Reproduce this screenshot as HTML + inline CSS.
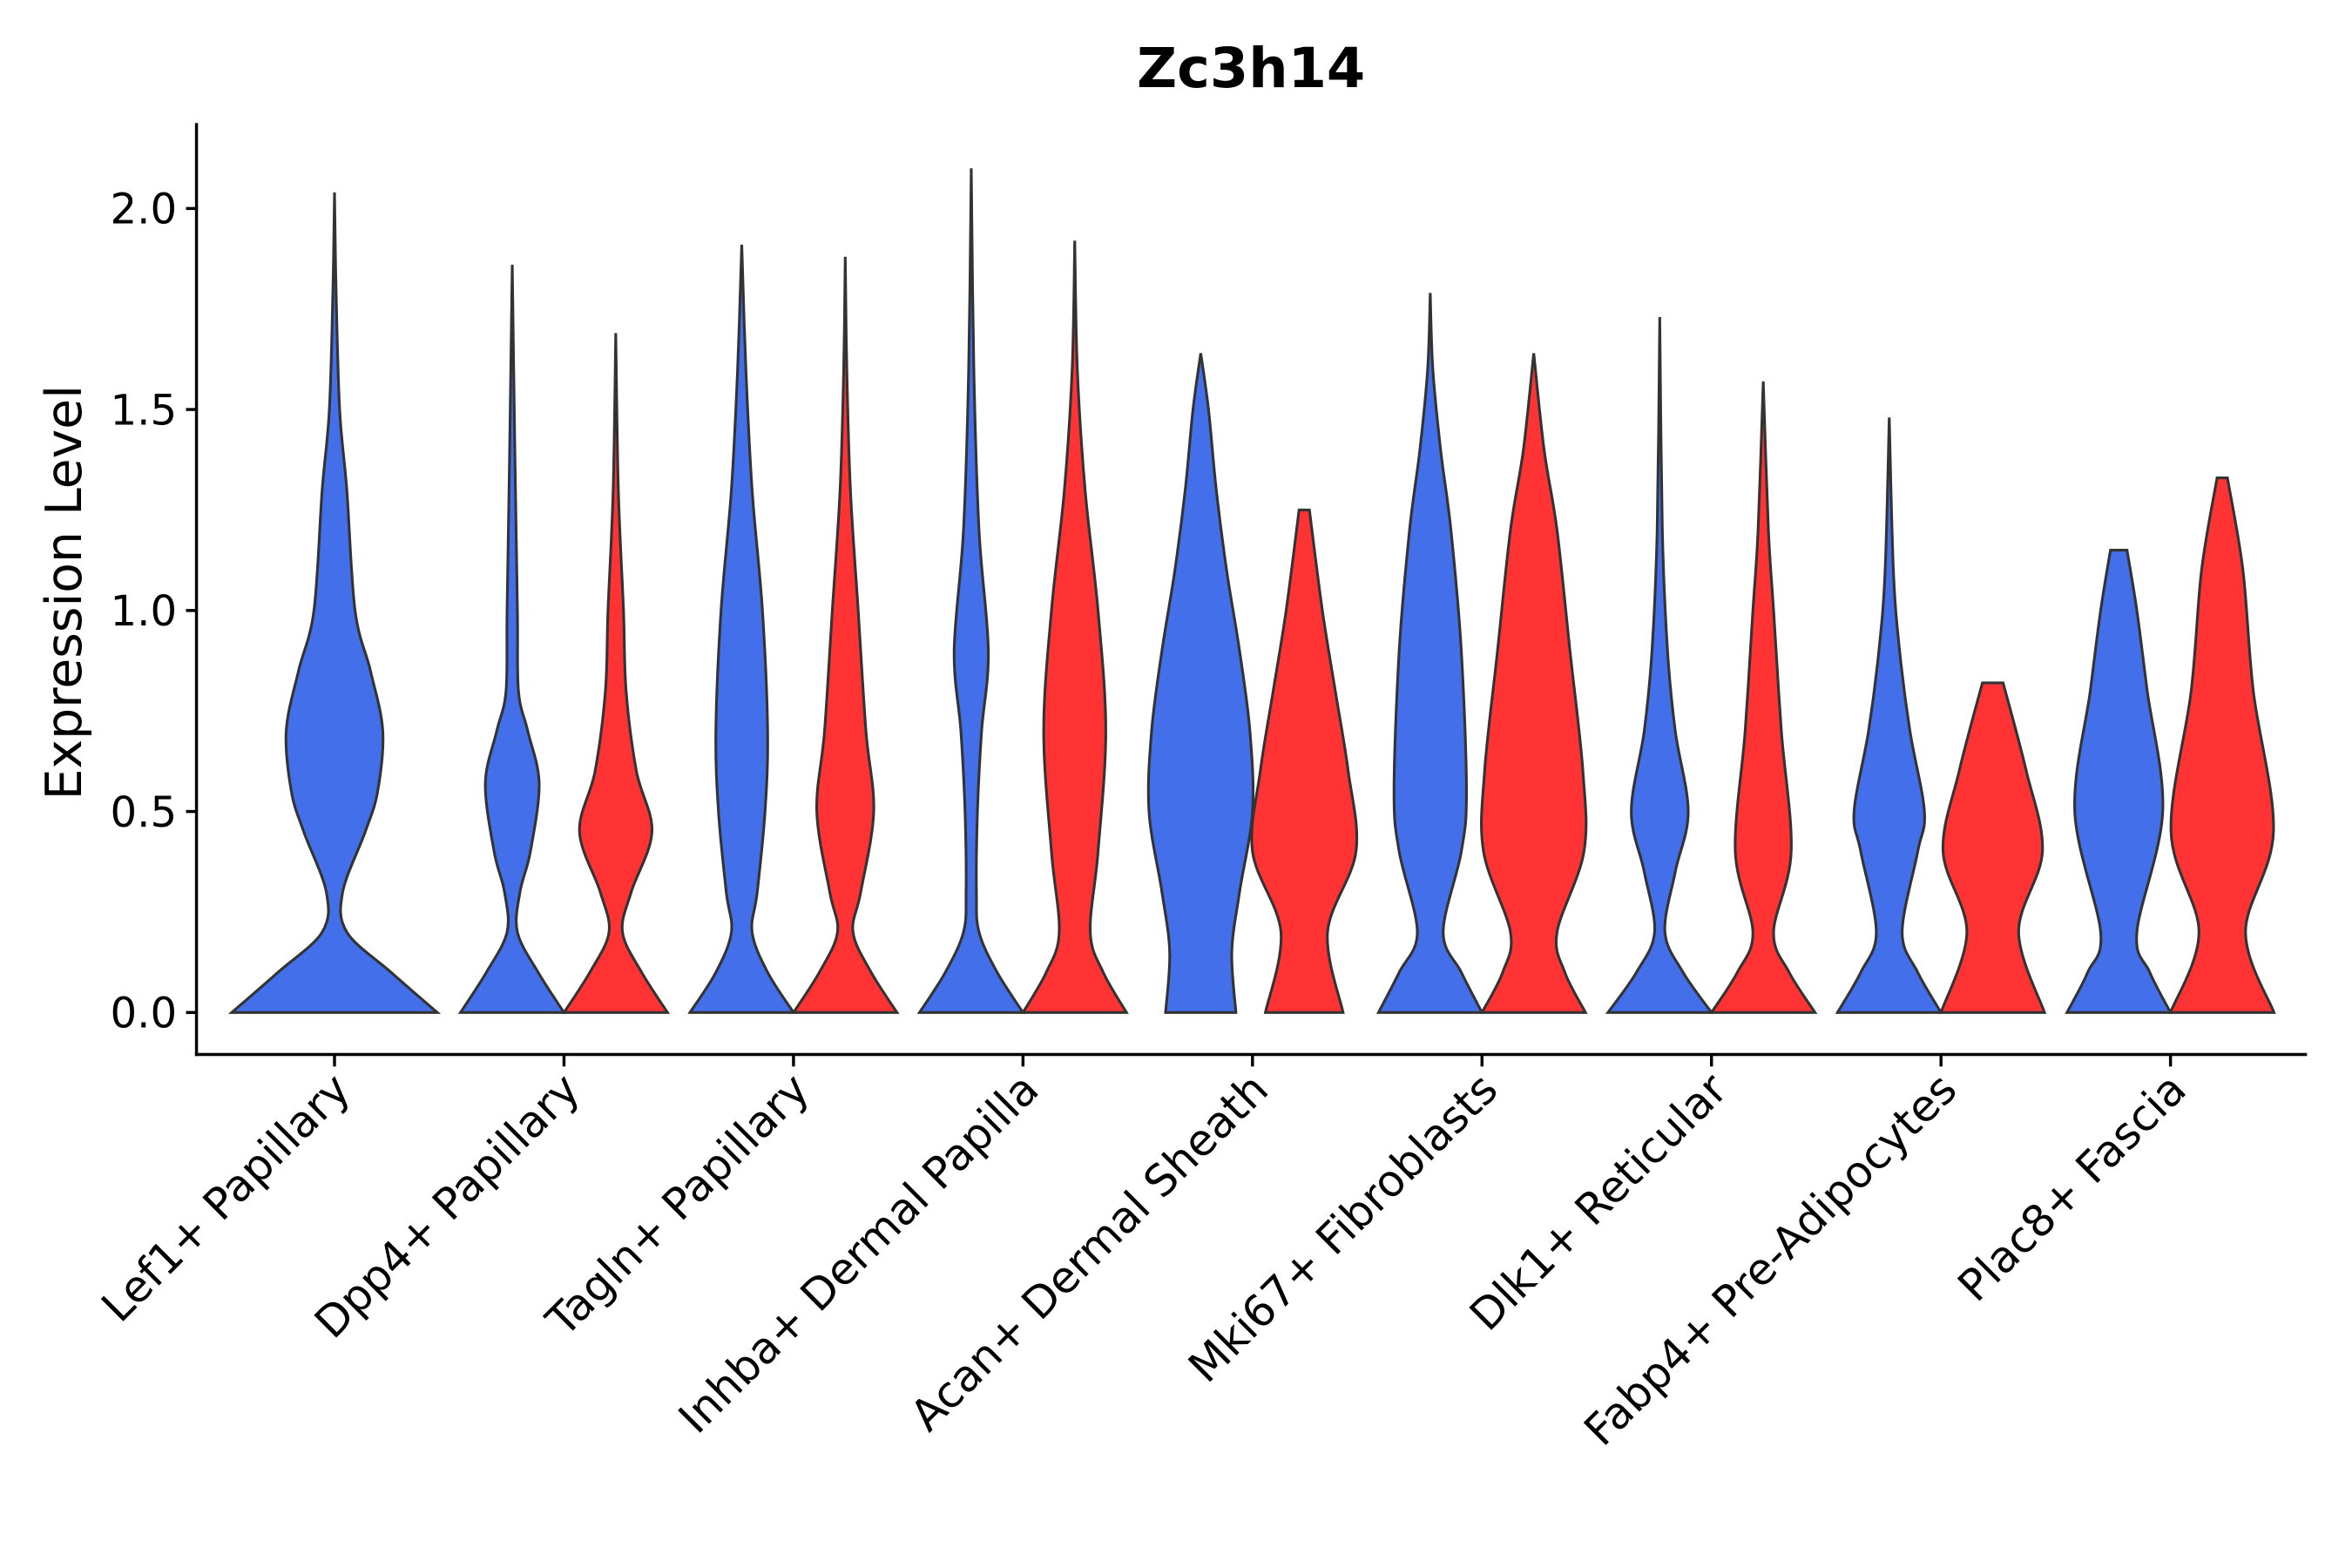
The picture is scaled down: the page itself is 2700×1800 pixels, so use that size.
<!DOCTYPE html>
<html><head><meta charset="utf-8"><style>
html,body{margin:0;padding:0;background:#fff}
svg{display:block}
text{font-family:"DejaVu Sans","Liberation Sans",sans-serif;fill:#000}
</style></head><body>
<svg id="chart" width="2700" height="1800" viewBox="0 0 1568 1045.33" preserveAspectRatio="none" xmlns="http://www.w3.org/2000/svg">
<text x="834" y="58" text-anchor="middle" font-size="37" font-weight="bold">Zc3h14</text>
<text transform="translate(54,395) rotate(-90)" text-anchor="middle" font-size="33">Expression Level</text>
<g id="violins"></g>
<g id="axes"></g>
</svg>
<script>
const categories = ["Lef1+ Papillary","Dpp4+ Papillary","Tagln+ Papillary","Inhba+ Dermal Papilla","Acan+ Dermal Sheath","Mki67+ Fibroblasts","Dlk1+ Reticular","Fabp4+ Pre-Adipocytes","Plac8+ Fascia"];
const yTicks = [0.0,0.5,1.0,1.5,2.0];
const yTickLabels = ["0.0","0.5","1.0","1.5","2.0"];
// density profiles: [level, relative half-width]
const blueProfiles = [
 [[0,1],[0.1,0.55],[0.2,0.12],[0.3,0.08],[0.45,0.3],[0.55,0.42],[0.7,0.47],[0.85,0.35],[1.0,0.2],[1.3,0.12],[1.5,0.05],[1.8,0.015],[2.04,0]],
 [[0,1],[0.1,0.5],[0.2,0.1],[0.3,0.15],[0.4,0.35],[0.57,0.52],[0.7,0.3],[0.8,0.12],[1.0,0.1],[1.4,0.05],[1.86,0]],
 [[0,1],[0.1,0.5],[0.2,0.2],[0.3,0.3],[0.5,0.45],[0.7,0.5],[1.0,0.4],[1.3,0.2],[1.6,0.08],[1.91,0]],
 [[0,1],[0.1,0.5],[0.2,0.15],[0.3,0.1],[0.5,0.12],[0.7,0.2],[0.9,0.33],[1.2,0.15],[1.6,0.05],[2.1,0]],
 [[0,0.68],[0.15,0.6],[0.3,0.75],[0.5,1.0],[0.7,0.95],[0.9,0.75],[1.1,0.5],[1.3,0.3],[1.5,0.15],[1.64,0]],
 [[0,1],[0.1,0.6],[0.2,0.25],[0.4,0.6],[0.55,0.7],[0.9,0.6],[1.2,0.4],[1.4,0.2],[1.6,0.05],[1.79,0]],
 [[0,1],[0.1,0.45],[0.2,0.1],[0.35,0.3],[0.5,0.55],[0.7,0.3],[0.9,0.15],[1.2,0.05],[1.73,0]],
 [[0,1],[0.1,0.55],[0.2,0.25],[0.4,0.55],[0.5,0.68],[0.7,0.4],[0.9,0.2],[1.1,0.08],[1.48,0]],
 [[0,1],[0.1,0.6],[0.2,0.35],[0.5,0.85],[0.8,0.55],[1.0,0.35],[1.15,0.16]]
];
const redProfiles = [
 null,
 [[0,1],[0.1,0.5],[0.2,0.13],[0.3,0.3],[0.45,0.7],[0.6,0.4],[0.8,0.2],[1.0,0.15],[1.3,0.05],[1.69,0]],
 [[0,1],[0.1,0.5],[0.2,0.15],[0.3,0.3],[0.5,0.55],[0.7,0.4],[1.0,0.25],[1.3,0.1],[1.6,0.03],[1.88,0]],
 [[0,1],[0.1,0.55],[0.2,0.3],[0.4,0.45],[0.7,0.6],[1.0,0.45],[1.3,0.2],[1.6,0.05],[1.92,0]],
 [[0,0.75],[0.2,0.45],[0.4,1.0],[0.6,0.85],[0.8,0.6],[1.0,0.35],[1.25,0.1]],
 [[0,1],[0.1,0.6],[0.2,0.45],[0.4,0.97],[0.6,0.95],[0.9,0.7],[1.2,0.45],[1.4,0.2],[1.64,0]],
 [[0,1],[0.1,0.5],[0.2,0.2],[0.4,0.54],[0.7,0.35],[1.0,0.2],[1.2,0.1],[1.57,0]],
 [[0,1],[0.2,0.5],[0.4,0.96],[0.6,0.65],[0.82,0.2]],
 [[0,1],[0.2,0.45],[0.45,0.99],[0.8,0.6],[1.1,0.4],[1.33,0.1]]
];
const X0=131, XW=153, Y0=675, PX=268;
function xCenter(i){return 223+i*XW;}
function yScale(v){return Y0-v*PX;}
const NS="http://www.w3.org/2000/svg";
function smoothSide(pts){
  let d="";
  for(let i=0;i<pts.length-1;i++){
    const p0=pts[Math.max(0,i-1)],p1=pts[i],p2=pts[i+1],p3=pts[Math.min(pts.length-1,i+2)];
    const c1=[p1[0]+(p2[0]-p0[0])/6,p1[1]+(p2[1]-p0[1])/6];
    const c2=[p2[0]-(p3[0]-p1[0])/6,p2[1]-(p3[1]-p1[1])/6];
    d+=` C${c1[0]},${c1[1]} ${c2[0]},${c2[1]} ${p2[0]},${p2[1]}`;
  }
  return d;
}
function violinPath(cx,hw,prof){
  const right=prof.map(p=>[cx+p[1]*hw,yScale(p[0])]);
  const left=prof.slice().reverse().map(p=>[cx-p[1]*hw,yScale(p[0])]);
  let d=`M${cx-prof[0][1]*hw},${yScale(0)} L${right[0][0]},${right[0][1]}`+smoothSide(right);
  d+=` L${left[0][0]},${left[0][1]}`+smoothSide(left)+" Z";
  return d;
}
const vg=document.getElementById('violins');
categories.forEach((c,i)=>{
  const cx=xCenter(i);
  if(redProfiles[i]===null){
    const p=document.createElementNS(NS,'path');
    p.setAttribute('d',violinPath(cx,68.5,blueProfiles[i]));
    p.setAttribute('fill','#4370EA');p.setAttribute('stroke','#333');p.setAttribute('stroke-width','1.8');
    
    
    vg.appendChild(p);
  } else {
    const p=document.createElementNS(NS,'path');
    p.setAttribute('d',violinPath(cx-34.5,34.5,blueProfiles[i]));
    p.setAttribute('fill','#4370EA');p.setAttribute('stroke','#333');p.setAttribute('stroke-width','1.8');
    
    
    vg.appendChild(p);
    const r=document.createElementNS(NS,'path');
    r.setAttribute('d',violinPath(cx+34.5,34.5,redProfiles[i]));
    r.setAttribute('fill','#FF3333');r.setAttribute('stroke','#333');r.setAttribute('stroke-width','1.8');
    
    
    vg.appendChild(r);
  }
});
const ag=document.getElementById('axes');
function line(x1,y1,x2,y2,name){
  const l=document.createElementNS(NS,'line');
  l.setAttribute('x1',x1);l.setAttribute('y1',y1);l.setAttribute('x2',x2);l.setAttribute('y2',y2);
  l.setAttribute('stroke','#000');l.setAttribute('stroke-width','2');
  
  
  ag.appendChild(l);
}
line(X0,82,X0,704,'y-axis-line');
line(X0-1,703,1538,703,'x-axis-line');
yTicks.forEach((v,i)=>{
  line(X0-7,yScale(v),X0,yScale(v),'y-tick');
  const t=document.createElementNS(NS,'text');
  t.setAttribute('x',X0-13);t.setAttribute('y',yScale(v)+10);t.setAttribute('text-anchor','end');t.setAttribute('font-size','28');
  t.textContent=yTickLabels[i];
  
  
  ag.appendChild(t);
});
categories.forEach((c,i)=>{
  const cx=xCenter(i);
  line(cx,703,cx,711,'x-tick');
  const t=document.createElementNS(NS,'text');
  t.setAttribute('transform',`translate(${cx+12},${728}) rotate(-45)`);
  t.setAttribute('text-anchor','end');t.setAttribute('font-size','29');
  t.textContent=c;
  
  
  ag.appendChild(t);
});
</script>
</body></html>
